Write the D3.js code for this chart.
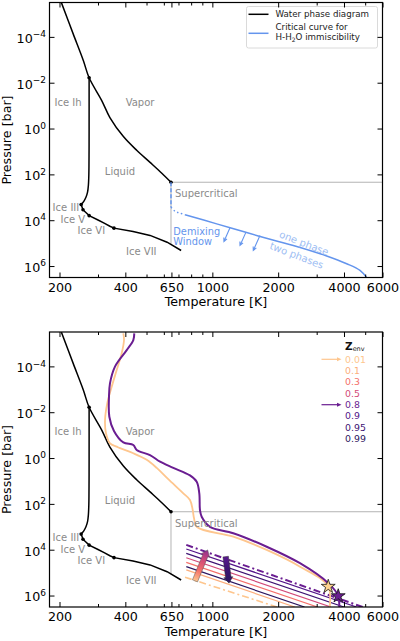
<!DOCTYPE html>
<html>
<head>
<meta charset="utf-8">
<script src="https://cdn.jsdelivr.net/npm/d3@7"></script>
<style>
	body { margin: 0; background: #fff; }
	svg { display: block; font-family: "DejaVu Sans", sans-serif; }
</style>
</head>
<body>
<svg width="400" height="641"></svg>
<script>

	// ---- water phase diagram, [T (K), P (bar)] ----
	var vapor_curve = [[204, 3.2e-6], [231, 7.4e-5], [257, 1.07e-3], [273.16, 6.1e-3], [312, 0.060], [340, 0.33], [392, 2.24], [452, 9.1], [519, 30], [589, 91], [647, 220.6]];
	var melt_ih = [[273.16, 6.1e-3], [273.15, 1], [273.0, 10], [272.4, 100], [271.1, 300], [268.7, 600], [264.2, 1000], [258.3, 1500], [251.17, 2085]];
	var melt_high = [[251.17, 2085], [256.16, 3501], [264, 4600], [273.31, 6324], [300, 9800], [320, 13500], [340, 18300], [355, 22160], [434, 31000], [519, 46000], [621, 91000], [720, 210000]];
	var triple_points = [[273.16, 6.1e-3], [647, 220.6], [251.17, 2085], [256.16, 3501], [273.31, 6324], [355, 22160]];
	var supercrit_h = [[647, 220.6], [6000, 220.6]];
	var supercrit_v = [[647, 220.6], [647, 1.2e5]];

	var phase_labels = ["Ice Ih", "Vapor", "Liquid", "Supercritical", "Ice III", "Ice V", "Ice VI", "Ice VII"];
	var phase_label_T = [219, 467, 378, 675, 186, 202, 242, 403];
	var phase_label_P = [0.071, 0.071, 72, 708, 2884, 9330, 28840, 2.24e5];
	var phase_label_anchor = ["middle", "middle", "middle", "start", "start", "start", "start", "start"];

	// ---- H-H2O critical curve (top panel) ----
	var crit_dashed = [[647, 220.6], [647, 2690]];
	var crit_dotted = [[647, 2690], [675, 4070], [711, 4900], [750, 5750]];
	var crit_solid = [[750, 5750], [1047, 14450], [1435, 34670], [2002, 85100], [2345, 125900], [3333, 363000], [4114, 794000], [4733, 1.55e6], [5078, 3.16e6]];
	var crit_arrows = [[[1204, 21380], [1130, 85100]], [[1425, 33110], [1338, 125900]], [[1651, 46770], [1539, 208900]]];

	// ---- envelope metallicity (bottom panel) ----
	var z_env = ["0.01", "0.1", "0.3", "0.5", "0.8", "0.9", "0.95", "0.99"];
	var z_dashdot = [true, false, false, false, true, false, false, false];
	var demix_lines = [
		[[750, 1.585e5], [1975, 3.16e6]],
		[[760, 7.59e4], [2382, 3.16e6]],
		[[760, 3.55e4], [3025, 3.16e6]],
		[[760, 2.24e4], [3487, 3.16e6]],
		[[760, 6.17e3], [4900, 3.24e6]],
		[[760, 9.33e3], [4565, 3.16e6]],
		[[760, 1.445e4], [3998, 3.16e6]],
		[[760, 5.50e4], [2638, 3.16e6]]
	];

	var profile_z001 = [[391.6, 3.63e-6], [394.5, 7.08e-6], [385, 2.69e-5], [365.2, 1.45e-4], [346.5, 7.76e-4], [330.8, 4.07e-3], [323, 0.0219], [326.3, 0.0832], [340.3, 0.229], [365.2, 0.316], [378.2, 0.372], [435.1, 0.617], [500.9, 1.20], [556.7, 2.69], [626.9, 8.13], [736.5, 34.7], [790.3, 67.6], [813.2, 186], [824.2, 417], [850.6, 1023], [1246.8, 2692], [1772.4, 10230], [2516, 54950], [3389, 4.07e5], [3389, 1e7]];
	var profile_z08 = [[439.5, 3.63e-6], [435.1, 7.08e-6], [405.9, 1.95e-5], [358.7, 1.02e-4], [340.3, 5.50e-4], [336.8, 2.09e-3], [338, 0.0158], [354.9, 0.0661], [391.6, 0.209], [435.1, 0.269], [450.8, 0.447], [518.6, 0.741], [576.4, 1.45], [663, 2.69], [790.3, 5.75], [848.1, 10.7], [871.6, 34.7], [878, 186], [893.8, 363], [975.4, 1000], [1246.8, 1905], [1772.4, 7413], [2516, 38900], [3389, 2.884e5], [3765, 1.05e6], [3765, 1e7]];
	var star_points = [[3389, 4.07e5], [3765, 1.05e6]];

	var arrow_up = [[833, 2.29e5], [952, 1.02e4]];
	var arrow_down = [[1151, 2.0e4], [1192, 2.88e5]];

	// ---- axes ----
	var x_domain = [180, 6000];
	var y_domain = [Math.pow(10, -5.5), Math.pow(10, 6.5)];
	var x_major = [200, 400, 650, 1000, 2000, 4000, 6000];
	var x_minor = [300, 500, 600, 700, 800, 900, 3000, 5000];
	var y_major = [1e-4, 1e-2, 1, 1e2, 1e4, 1e6];

	// styles
	var z_colors = ["#fec68e", "#fcae7c", "#f4706a", "#d24a78", "#6a1d91", "#531489", "#3d1272", "#2c1660"];
	var blue = "#6495ed", grey_text = "#8a8a8a";
	var x_left = 49.5, x_right = 382.5, panel_h = 275;

	var svg = d3.select("svg");
	var defs = svg.append("defs");

	function arrow_polygon(p0, p1, body_w, head_w, head_len){
		var dx = p1[0] - p0[0], dy = p1[1] - p0[1];
		var len = Math.sqrt(dx * dx + dy * dy);
		var ux = dx / len, uy = dy / len, nx = -uy, ny = ux;
		var bx = p1[0] - ux * head_len, by = p1[1] - uy * head_len;
		return [
			[p0[0] + nx * body_w / 2, p0[1] + ny * body_w / 2],
			[bx + nx * body_w / 2, by + ny * body_w / 2],
			[bx + nx * head_w / 2, by + ny * head_w / 2],
			[p1[0], p1[1]],
			[bx - nx * head_w / 2, by - ny * head_w / 2],
			[bx - nx * body_w / 2, by - ny * body_w / 2],
			[p0[0] - nx * body_w / 2, p0[1] - ny * body_w / 2]
		];
	}

	function gradient(id, p0, p1, stops){
		var lg = defs.append("linearGradient").attr("id", id)
			.attr("gradientUnits", "userSpaceOnUse")
			.attr("x1", p0[0]).attr("y1", p0[1]).attr("x2", p1[0]).attr("y2", p1[1]);
		stops.forEach(function(c, i){
			lg.append("stop").attr("offset", i / (stops.length - 1)).attr("stop-color", c);
		});
	}

	function draw_panel(top, index){

		var x = d3.scaleLog().domain(x_domain).range([x_left, x_right]);
		var y = d3.scaleLog().domain(y_domain).range([top, top + panel_h]);
		var line = d3.line().x(function(d){ return x(d[0]); }).y(function(d){ return y(d[1]); });
		var smooth = d3.line().curve(d3.curveCatmullRom.alpha(0.5)).x(function(d){ return x(d[0]); }).y(function(d){ return y(d[1]); });

		var clip_id = "clip" + index;
		defs.append("clipPath").attr("id", clip_id).append("rect")
			.attr("x", x_left).attr("y", top).attr("width", x_right - x_left).attr("height", panel_h);

		var g = svg.append("g");
		var plot = g.append("g").attr("clip-path", "url(#" + clip_id + ")");

		// supercritical boundaries
		[supercrit_h, supercrit_v].forEach(function(seg){
			plot.append("path").attr("d", line(seg)).attr("fill", "none").attr("stroke", "#b4b4b4").attr("stroke-width", 1);
		});

		// phase boundaries
		plot.append("path").attr("d", smooth(vapor_curve)).attr("fill", "none").attr("stroke", "#000").attr("stroke-width", 1.5);
		plot.append("path").attr("d", smooth(melt_ih)).attr("fill", "none").attr("stroke", "#000").attr("stroke-width", 1.5);
		plot.append("path").attr("d", line(melt_high)).attr("fill", "none").attr("stroke", "#000").attr("stroke-width", 1.5);
		plot.selectAll("circle.tp").data(triple_points).enter().append("circle")
			.attr("cx", function(d){ return x(d[0]); }).attr("cy", function(d){ return y(d[1]); })
			.attr("r", 1.8).attr("fill", "#000");

		// phase labels
		phase_labels.forEach(function(t, i){
			g.append("text").attr("x", x(phase_label_T[i])).attr("y", y(phase_label_P[i]))
				.attr("dy", "0.35em").attr("text-anchor", phase_label_anchor[i])
				.attr("font-size", "10px").attr("fill", grey_text).text(t);
		});

		if(index === 0){
			// critical curve for H-H2O immiscibility
			plot.append("path").attr("d", line(crit_dashed)).attr("fill", "none").attr("stroke", blue).attr("stroke-width", 1.5).attr("stroke-dasharray", "4,2");
			plot.append("path").attr("d", smooth(crit_dotted)).attr("fill", "none").attr("stroke", blue).attr("stroke-width", 1.5).attr("stroke-dasharray", "1.5,2.5");
			plot.append("path").attr("d", smooth(crit_solid)).attr("fill", "none").attr("stroke", blue).attr("stroke-width", 1.5);

			crit_arrows.forEach(function(a){
				var p0 = [x(a[0][0]), y(a[0][1])], p1 = [x(a[1][0]), y(a[1][1])];
				var ang = Math.atan2(p1[1] - p0[1], p1[0] - p0[0]);
				var h = 4, spread = 0.45;
				plot.append("path")
					.attr("d", "M" + p0 + "L" + p1 +
						"M" + [p1[0] - h * Math.cos(ang - spread), p1[1] - h * Math.sin(ang - spread)] + "L" + p1 +
						"L" + [p1[0] - h * Math.cos(ang + spread), p1[1] - h * Math.sin(ang + spread)])
					.attr("fill", "none").attr("stroke", blue).attr("stroke-width", 1.1);
			});

			g.append("text").attr("x", x(663)).attr("y", y(30900)).attr("dy", "0.35em")
				.attr("font-size", "9.8px").attr("fill", blue).text("Demixing");
			g.append("text").attr("x", x(663)).attr("y", y(85100)).attr("dy", "0.35em")
				.attr("font-size", "9.8px").attr("fill", blue).text("Window");

			[["one phase", 2624, 1.0e5], ["two phases", 2430, 3.47e5]].forEach(function(l){
				var px = x(l[1]), py = y(l[2]);
				g.append("text").attr("transform", "translate(" + px + "," + py + ") rotate(21)")
					.attr("text-anchor", "middle").attr("dy", "0.35em")
					.attr("font-size", "10px").attr("fill", "#9dbdf3").text(l[0]);
			});

			// legend
			var lg = g.append("g");
			lg.append("rect").attr("x", 246.5).attr("y", top + 4).attr("width", 131).attr("height", 41.5)
				.attr("rx", 2).attr("fill", "#fff").attr("fill-opacity", 0.8).attr("stroke", "#d0d0d0").attr("stroke-width", 0.8);
			lg.append("line").attr("x1", 248.5).attr("x2", 268.5).attr("y1", top + 11.8).attr("y2", top + 11.8).attr("stroke", "#000").attr("stroke-width", 1.5);
			lg.append("text").attr("x", 275.5).attr("y", top + 11.8).attr("dy", "0.35em").attr("font-size", "8.7px").attr("fill", "#222").text("Water phase diagram");
			lg.append("line").attr("x1", 248.5).attr("x2", 268.5).attr("y1", top + 30.8).attr("y2", top + 30.8).attr("stroke", blue).attr("stroke-width", 1.5);
			lg.append("text").attr("x", 275.5).attr("y", top + 24.8).attr("dy", "0.35em").attr("font-size", "8.7px").attr("fill", "#222").text("Critical curve for");
			var t2 = lg.append("text").attr("x", 275.5).attr("y", top + 34.8).attr("dy", "0.35em").attr("font-size", "8.7px").attr("fill", "#222");
			t2.append("tspan").text("H-H");
			t2.append("tspan").attr("font-size", "6px").attr("dy", "0.25em").text("2");
			t2.append("tspan").attr("dy", "-0.18em").text("O immiscibility");

		} else {
			// demixing curves for each envelope metallicity
			demix_lines.forEach(function(seg, i){
				var p = plot.append("path").attr("d", line(seg)).attr("fill", "none").attr("stroke", z_colors[i]);
				if(z_dashdot[i]){
					p.attr("stroke-width", i === 4 ? 2 : 1.6).attr("stroke-dasharray", "7,3,2,3");
				} else {
					p.attr("stroke-width", 1.2);
				}
			});

			// adiabatic profiles
			plot.append("path").attr("d", smooth(profile_z001)).attr("fill", "none").attr("stroke", z_colors[0]).attr("stroke-width", 1.8);
			plot.append("path").attr("d", smooth(profile_z08)).attr("fill", "none").attr("stroke", z_colors[4]).attr("stroke-width", 2);

			var star = d3.symbol().type(d3.symbolStar).size(60);
			star_points.forEach(function(s, i){
				plot.append("path").attr("d", star())
					.attr("transform", "translate(" + x(s[0]) + "," + y(s[1]) + ")")
					.attr("fill", i === 0 ? "#fed38f" : "#6a1d91").attr("stroke", "#111").attr("stroke-width", 0.8);
			});

			// arrows showing the shift of the demixing curve with Z
			var a0 = [x(arrow_up[0][0]), y(arrow_up[0][1])], a1 = [x(arrow_up[1][0]), y(arrow_up[1][1])];
			gradient("grad_up", a0, a1, ["#fec68e", "#f4706a", "#d24a78", "#8c2f90"]);
			plot.append("polygon").attr("points", arrow_polygon(a0, a1, 5.5, 9, 6).join(" "))
				.attr("fill", "url(#grad_up)").attr("stroke", "#555").attr("stroke-width", 0.5);

			var b0 = [x(arrow_down[0][0]), y(arrow_down[0][1])], b1 = [x(arrow_down[1][0]), y(arrow_down[1][1])];
			gradient("grad_down", b0, b1, ["#5a1a8f", "#3d1272", "#2c1660"]);
			plot.append("polygon").attr("points", arrow_polygon(b0, b1, 5.5, 9, 6).join(" "))
				.attr("fill", "url(#grad_down)").attr("stroke", "#333").attr("stroke-width", 0.5);

			// Z_env legend
			var lz = g.append("g");
			var zt = lz.append("text").attr("x", 345).attr("y", top + 12).attr("dy", "0.35em").attr("fill", "#111");
			zt.append("tspan").attr("font-weight", "bold").attr("font-size", "10.5px").text("Z");
			zt.append("tspan").attr("font-size", "6.5px").attr("dy", "0.25em").text("env");
			z_env.forEach(function(z, i){
				var yy = top + 27.3 + i * 11.35;
				lz.append("text").attr("x", 345).attr("y", yy).attr("dy", "0.35em")
					.attr("font-size", "9.4px").attr("fill", z_colors[i]).text(z);
				if(i === 0 || i === 4){
					lz.append("line").attr("x1", 321.5).attr("x2", 338.5).attr("y1", yy).attr("y2", yy)
						.attr("stroke", z_colors[i]).attr("stroke-width", 1.2);
					lz.append("path").attr("d", "M341.5," + yy + "L337," + (yy - 2) + "L337," + (yy + 2) + "Z")
						.attr("fill", z_colors[i]);
				}
			});
		}

		// frame
		g.append("rect").attr("x", x_left).attr("y", top).attr("width", x_right - x_left).attr("height", panel_h)
			.attr("fill", "none").attr("stroke", "#000").attr("stroke-width", 1.2);

		// axes, ticks pointing inward on all four sides
		function add_axis(axis, transform){
			var a = g.append("g").attr("transform", transform).call(axis);
			a.select(".domain").remove();
			a.selectAll(".tick line").attr("stroke", "#000").attr("stroke-width", 1);
			a.selectAll("text").attr("font-size", "12.7px").attr("font-family", "DejaVu Sans, sans-serif").attr("fill", "#000");
			return a;
		}

		add_axis(d3.axisBottom(x).tickValues(x_major).tickFormat(d3.format("d")).tickSize(-5).tickPadding(5), "translate(0," + (top + panel_h) + ")");
		add_axis(d3.axisBottom(x).tickValues(x_minor).tickFormat("").tickSize(-3), "translate(0," + (top + panel_h) + ")");
		add_axis(d3.axisTop(x).tickValues(x_major).tickFormat("").tickSize(-5), "translate(0," + top + ")");
		add_axis(d3.axisTop(x).tickValues(x_minor).tickFormat("").tickSize(-3), "translate(0," + top + ")");
		add_axis(d3.axisRight(y).tickValues(y_major).tickFormat("").tickSize(-5), "translate(" + x_right + ",0)");

		var ya = add_axis(d3.axisLeft(y).tickValues(y_major).tickFormat("").tickSize(-5).tickPadding(3.5), "translate(" + x_left + ",0)");
		ya.selectAll(".tick text").each(function(d){
			var e = Math.round(Math.log10(d));
			var t = d3.select(this).attr("dy", "0.42em");
			t.text("10");
			t.append("tspan").attr("dy", "-0.62em").attr("font-size", "9px").text(e < 0 ? "\u2212" + (-e) : e);
		});

		g.append("text").attr("x", (x_left + x_right) / 2).attr("y", top + panel_h + 24.5).attr("dy", "0.35em")
			.attr("text-anchor", "middle").attr("font-size", "12.7px").text("Temperature [K]");
		g.append("text").attr("transform", "translate(7," + (top + panel_h / 2) + ") rotate(-90)")
			.attr("dy", "0.35em").attr("text-anchor", "middle").attr("font-size", "12.7px").text("Pressure [bar]");
	}

	draw_panel(2.5, 0);
	draw_panel(332, 1);

</script>
</body>
</html>
